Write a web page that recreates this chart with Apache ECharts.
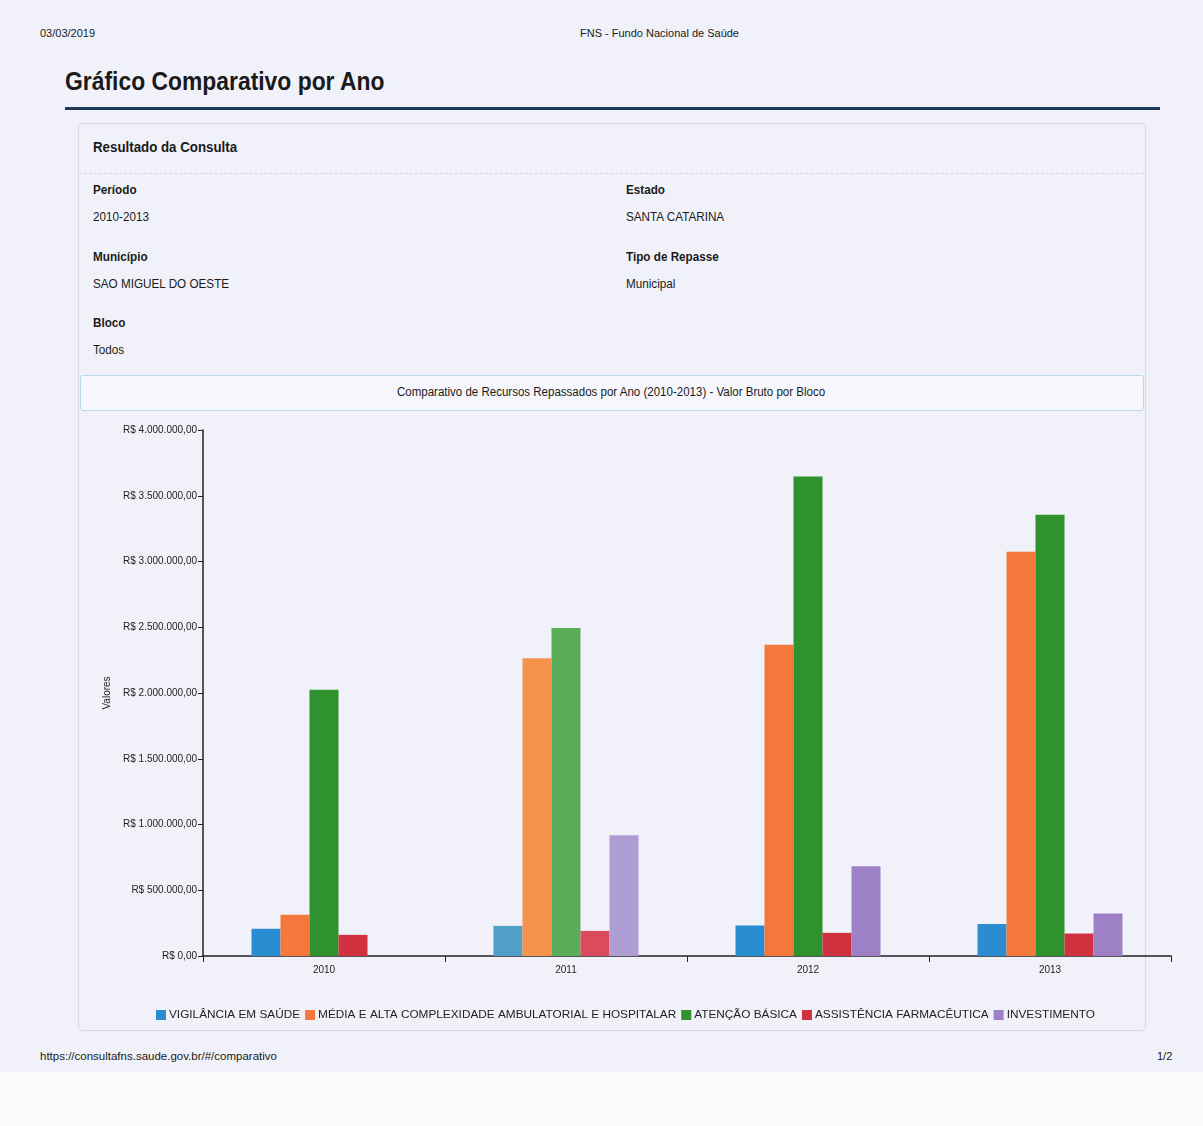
<!DOCTYPE html>
<html>
<head>
<meta charset="utf-8">
<script src="https://cdn.jsdelivr.net/npm/echarts@6/dist/echarts.min.js"></script>
<style>
  html, body { margin:0; padding:0; }
  body { width:1203px; height:1126px; background:#f1f2f9; position:relative; overflow:hidden;
         font-family:"Liberation Sans",Arial,sans-serif; color:#1a1a1a; }
  .abs { position:absolute; white-space:nowrap; }
  .sx { transform-origin:0 0; transform:scaleX(0.9); }
  .small { font-size:11px; }
  .lbl { font-size:13px; font-weight:bold; }
  .val { font-size:13px; }
  #chart { position:absolute; left:0; top:0; width:1203px; height:1126px; }
</style>
</head>
<body>
<div class="abs small" style="left:40px;top:27px;">03/03/2019</div>
<div class="abs small" style="left:580px;top:27px;">FNS - Fundo Nacional de Saúde</div>
<div class="abs" style="left:65px;top:66px;font-size:26px;font-weight:bold;transform-origin:0 0;transform:scaleX(0.88);">Gráfico Comparativo por Ano</div>
<div class="abs" style="left:65px;top:107px;width:1095px;height:3px;background:#1f3a58;"></div>

<div class="abs" style="left:78px;top:123px;width:1066px;height:906px;border:1px solid #d6dae4;border-radius:4px;"></div>
<div class="abs" style="left:93px;top:139px;font-size:14px;font-weight:bold;transform-origin:0 0;transform:scaleX(0.95);">Resultado da Consulta</div>
<div class="abs" style="left:79px;top:173px;width:1065px;height:0;border-top:1px dashed #d0d4de;"></div>

<div class="abs lbl sx" style="left:93px;top:182px;">Período</div>
<div class="abs val sx" style="left:93px;top:209px;">2010-2013</div>
<div class="abs lbl sx" style="left:93px;top:249px;">Município</div>
<div class="abs val sx" style="left:93px;top:276px;">SAO MIGUEL DO OESTE</div>
<div class="abs lbl sx" style="left:93px;top:315px;">Bloco</div>
<div class="abs val sx" style="left:93px;top:342px;">Todos</div>

<div class="abs lbl sx" style="left:626px;top:182px;">Estado</div>
<div class="abs val sx" style="left:626px;top:209px;">SANTA CATARINA</div>
<div class="abs lbl sx" style="left:626px;top:249px;">Tipo de Repasse</div>
<div class="abs val sx" style="left:626px;top:276px;">Municipal</div>

<div class="abs" style="left:80px;top:375px;width:1062px;height:34px;border:1px solid #b6dcec;border-radius:3px;background:#f5f7fc;"></div>
<div class="abs" style="left:80px;top:385px;width:1062px;text-align:center;font-size:12px;"><span style="display:inline-block;transform:scaleX(0.96);">Comparativo de Recursos Repassados por Ano (2010-2013) - Valor Bruto por Bloco</span></div>

<div class="abs" style="left:40px;top:1050px;font-size:11.5px;">https://consultafns.saude.gov.br/#/comparativo</div>
<div class="abs small" style="left:1157px;top:1050px;">1/2</div>
<div class="abs" style="left:0;top:1072px;width:1203px;height:54px;background:#fafafc;"></div>

<div id="chart"></div>
<script>
// ---- data ----
var years = ['2010', '2011', '2012', '2013'];
var seriesNames = ['VIGILÂNCIA EM SAÚDE', 'MÉDIA E ALTA COMPLEXIDADE AMBULATORIAL E HOSPITALAR', 'ATENÇÃO BÁSICA', 'ASSISTÊNCIA FARMACÊUTICA', 'INVESTIMENTO'];
var vigilancia   = [207000, 229000, 232000, 243000];
var mediaAlta    = [313000, 2265000, 2367000, 3074000];
var atencao      = [2025000, 2494000, 3646000, 3356000];
var assistencia  = [161000, 191000, 176000, 171000];
var investimento = [0, 918000, 682000, 323000];
var baseColors   = ['#2a8dd2', '#f4773b', '#2f922f', '#d0313e', '#9d80c6'];
var lightColors  = ['#509fc6', '#f5924c', '#5aae5a', '#db4b5e', '#ae9dd2']; // 2011 group appears lighter

var valuesList = [vigilancia, mediaAlta, atencao, assistencia, investimento];

function fmt(v) {
  var s = Math.round(v).toString().replace(/\B(?=(\d{3})+(?!\d))/g, '.');
  return 'R$ ' + s + ',00';
}

var FONT = '"Liberation Sans",Arial,sans-serif';
var chart = echarts.init(document.getElementById('chart'), null, {renderer: 'canvas'});
var series = valuesList.map(function (vals, i) {
  return {
    name: seriesNames[i],
    type: 'bar',
    barWidth: 29,
    barGap: '0%',
    itemStyle: { color: baseColors[i] },
    data: vals.map(function (v, j) {
      return j === 1 ? { value: v, itemStyle: { color: lightColors[i] } } : v;
    })
  };
});

chart.setOption({
  animation: false,
  backgroundColor: 'transparent',
  textStyle: { fontFamily: FONT },
  grid: { left: 203, right: 32, top: 430, bottom: 170, containLabel: false },
  legend: {
    top: 1004, left: 151,
    icon: 'rect', itemWidth: 10, itemHeight: 10, itemGap: 5,
    textStyle: { fontFamily: FONT, fontSize: 11.8, color: '#222', padding: [0, 0, 0, -2] },
    data: seriesNames
  },
  xAxis: {
    type: 'category',
    data: years,
    axisLine: { lineStyle: { color: '#222', width: 1.5 } },
    axisTick: { show: true, length: 6, lineStyle: { color: '#222' } },
    axisLabel: { color: '#222', fontSize: 10, margin: 9, fontFamily: FONT }
  },
  yAxis: {
    type: 'value',
    min: 0, max: 4000000, interval: 500000,
    name: 'Valores', nameLocation: 'middle', nameGap: 86, nameRotate: 90,
    nameTextStyle: { fontSize: 10, color: '#222', fontFamily: FONT },
    axisLine: { show: true, lineStyle: { color: '#222', width: 1.5 } },
    axisTick: { show: true, length: 5, lineStyle: { color: '#222' } },
    splitLine: { show: false },
    axisLabel: { color: '#222', fontSize: 10, margin: 6, fontFamily: FONT, formatter: fmt }
  },
  series: series
});
</script>
</body>
</html>
